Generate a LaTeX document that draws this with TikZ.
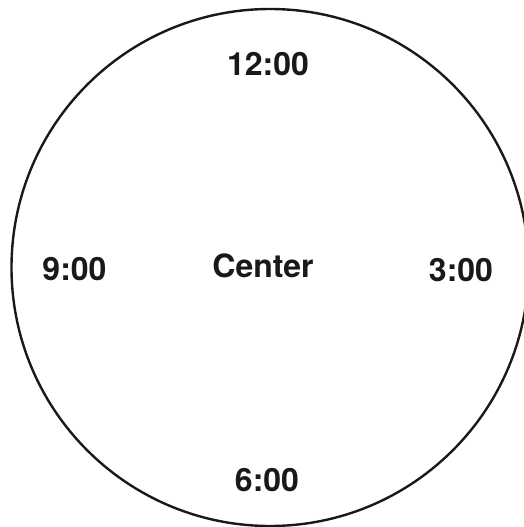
\documentclass[tikz,border=0pt]{standalone}
\usepackage{fontspec}
\setmainfont{TeX Gyre Heros}
\usepackage{tikz}
\usetikzlibrary{positioning}

\begin{document}
\begin{tikzpicture}[
  x=1pt, y=1pt,
  dial/.style={
    circle, draw=black!90, line width=2.4pt,
    minimum size=517pt, inner sep=0pt
  },
  hour/.style={font=\fontsize{32}{32}\selectfont\bfseries, text=black!90, inner sep=0pt}
]
\useasboundingbox (0,0) rectangle (524,-527);
\node[dial] (face) at (270,-267.5) {};

\node[hour] (twelve) at (268,-64) {12:00};
\node[hour] (nine)   at (74.5,-269) {9:00};
\node[hour] (mid)    at (263,-266) {Center};
\node[hour] (three)  at (461,-270) {3:00};
\node[hour] (six)    at (267,-480) {6:00};
\end{tikzpicture}
\end{document}
